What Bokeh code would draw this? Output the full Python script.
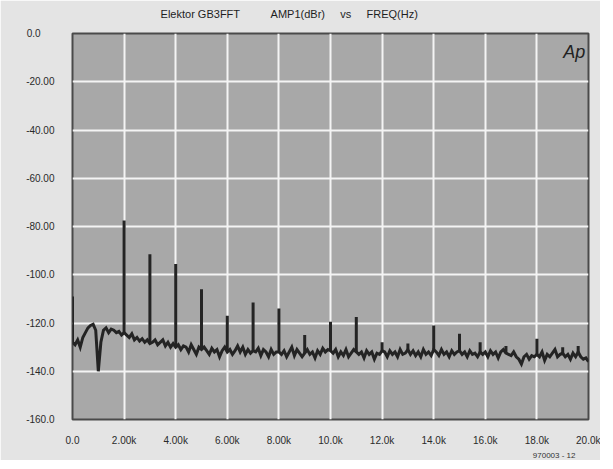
from bokeh.plotting import figure
from bokeh.models import FixedTicker, Label, Range1d, Title, LinearAxis
from bokeh.embed import file_html
from bokeh.resources import INLINE

# ---- data ----
freq_khz = [round(i * 0.1, 1) for i in range(201)]  # FFT bin frequencies, kHz

# noise floor of the spectrum, dBr
floor_db = [
    # 0.0 - 0.9 kHz
    -128, -129, -127, -130, -126, -124, -122, -121, -120.5, -123,
    # 1.0 - 1.9
    -140, -128, -123, -122, -124, -122.5, -123, -124, -123.5, -125,
    # 2.0 - 2.9
    -124, -125, -126, -124.5, -127, -126, -127.5, -126.5, -128, -127,
    # 3.0 - 3.9
    -128.5, -128, -127, -129, -128, -127, -129.5, -128, -130, -128.5,
    # 4.0 - 4.9
    -130, -129, -131, -129.5, -130, -132, -129, -131, -133, -130,
    # 5.0 - 5.9
    -131, -130, -131.5, -133, -130.5, -132, -131, -134, -131.5, -130,
    # 6.0 - 6.9
    -132, -131, -133, -131.5, -129.5, -132, -130, -133, -131, -132.5,
    # 7.0 - 7.9
    -131.5, -132, -130.5, -133.5, -131, -132, -134, -131, -133, -132,
    # 8.0 - 8.9
    -132, -133, -131.5, -134, -132, -130, -133.5, -131, -132.5, -134,
    # 9.0 - 9.9
    -132.5, -131, -133, -132, -134.5, -131.5, -133, -130.5, -132, -131,
    # 10.0 - 10.9
    -131.5, -132.5, -131, -134, -132, -133.5, -131, -134, -132.5, -131,
    # 11.0 - 11.9
    -132, -133, -132, -134.5, -131.5, -133, -132, -135, -132.5, -133,
    # 12.0 - 12.9
    -131.5, -132, -134, -131.5, -133, -132, -134, -131, -133, -132.5,
    # 13.0 - 13.9
    -131, -133, -131.5, -133.5, -132, -134, -131, -133, -132, -133.5,
    # 14.0 - 14.9
    -131, -132, -133.5, -131, -133, -132, -134, -131.5, -133, -132,
    # 15.0 - 15.9
    -131.5, -133, -132, -134, -131.5, -133, -132.5, -134, -132, -133,
    # 16.0 - 16.9
    -132, -134, -131.5, -133, -132, -134.5, -132, -131, -132.5, -133,
    # 17.0 - 17.9
    -133.5, -132, -134, -135, -137, -134, -133, -135, -133.5, -134,
    # 18.0 - 18.9
    -133, -134, -132, -135.5, -133, -134, -132.5, -131, -134, -133,
    # 19.0 - 19.9
    -132.5, -134, -133, -135, -132.5, -134, -132, -134, -135, -134.5,
    # 20.0
    -136,
]

# spectral lines (harmonics and spurs): frequency kHz, peak level dBr
spike_khz = [0.0, 2.0, 3.0, 4.0, 5.0, 6.0, 7.0, 8.0, 9.0, 10.0, 11.0,
             12.0, 13.0, 14.0, 15.0, 15.8, 16.8, 18.0, 19.0, 19.6]
spike_db = [-109, -77.5, -91.5, -95.5, -106, -117, -111.5, -114, -125, -119.5, -117.5,
            -128, -128.5, -121, -124.5, -128, -129.5, -126.5, -130, -129.5]

x_ticks = [0, 2, 4, 6, 8, 10, 12, 14, 16, 18, 20]
x_tick_labels = ["0.0", "2.00k", "4.00k", "6.00k", "8.00k", "10.0k",
                 "12.0k", "14.0k", "16.0k", "18.0k", "20.0k"]
y_ticks = [0, -20, -40, -60, -80, -100, -120, -140, -160]
y_tick_labels = ["0.0\u00a0\u00a0\u00a0\u00a0\u00a0", "-20.00", "-40.00", "-60.00", "-80.00",
                 "-100.0", "-120.0", "-140.0", "-160.0"]

NB = "\u00a0"
# trailing non-breaking spaces shift the centred heading to the left, as in the original
title_text = ("Elektor GB3FFT" + NB * 10 + "AMP1(dBr)" + NB * 5 + "vs" + NB * 5
              + "FREQ(Hz)" + NB * 27)
figure_code = "970003 - 12"

FONT = "Liberation Sans"

p = figure(width=600, height=460, output_backend="svg", toolbar_location=None,
           x_range=Range1d(0, 20), y_range=Range1d(-160, 0),
           min_border_left=72, min_border_top=33,
           min_border_right=12, min_border_bottom=41)

p.background_fill_color = "#a8a8a8"
p.border_fill_color = "#e4e4e4"
p.outline_line_color = "#4a4a4a"
p.outline_line_width = 2

p.xgrid.ticker = FixedTicker(ticks=x_ticks)
p.ygrid.ticker = FixedTicker(ticks=y_ticks)
for g in (p.xgrid, p.ygrid):
    g.grid_line_color = "#f4f4f4"
    g.grid_line_width = 2
    g.grid_line_alpha = 1.0

p.xaxis.ticker = FixedTicker(ticks=x_ticks)
p.yaxis.ticker = FixedTicker(ticks=y_ticks)
p.xaxis.major_label_overrides = {t: s for t, s in zip(x_ticks, x_tick_labels)}
p.yaxis.major_label_overrides = {t: s for t, s in zip(y_ticks, y_tick_labels)}
for ax in (p.xaxis, p.yaxis):
    ax.axis_line_color = None
    ax.major_tick_line_color = None
    ax.minor_tick_line_color = None
    ax.major_label_text_font = FONT
    ax.major_label_text_font_size = "10px"
    ax.major_label_text_color = "#2a2a2a"
p.xaxis.major_label_standoff = 9
p.yaxis.major_label_standoff = 12

# heading, carried by a tick-less axis above the frame
top_axis = LinearAxis(ticker=FixedTicker(ticks=[]), axis_label=title_text,
                      axis_label_standoff=14, axis_label_text_font=FONT,
                      axis_label_text_font_size="11px",
                      axis_label_text_font_style="normal",
                      axis_label_text_color="#1e1e1e",
                      axis_line_color=None, major_tick_line_color=None,
                      minor_tick_line_color=None, major_label_standoff=0)
p.add_layout(top_axis, "above")

# noise floor trace
p.line(freq_khz, floor_db, line_color="#242424", line_width=3, line_join="miter")

# spectral lines rising from the floor
spike_base = [floor_db[freq_khz.index(round(f, 1))] for f in spike_khz]
p.segment(x0=spike_khz, y0=spike_base, x1=spike_khz, y1=spike_db,
          line_color="#242424", line_width=3)

p.add_layout(Label(x=19.45, y=-7.5, text="Ap", text_align="center",
                   text_baseline="middle", text_font=FONT, text_font_size="18px",
                   text_font_style="italic", text_color="#222222"))

code_title = Title(text=figure_code, align="right", offset=13, standoff=0,
                   text_font=FONT, text_font_size="8px", text_font_style="normal",
                   text_color="#333333")
p.add_layout(code_title, "below")

open("out.html", "w").write(file_html(p, INLINE))
